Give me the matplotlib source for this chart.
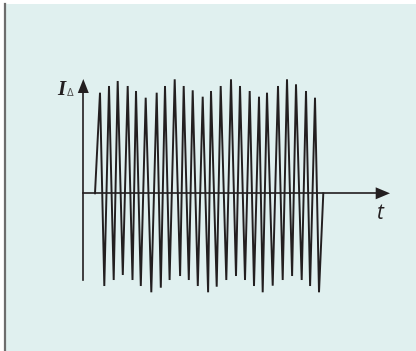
import matplotlib.pyplot as plt
from matplotlib.patches import Rectangle

# peak times and values of the differential current (arbitrary units, origin at axis crossing)
t_start, t_end = 11.7, 240.0
t_top = [16.7, 25.7, 34.4, 44.4, 52.7, 62.4, 73.4, 81.7, 91.4, 100.4, 109.4, 119.4,
         127.7, 137.4, 147.7, 156.7, 166.4, 175.7, 183.7, 194.7, 203.7, 212.7, 222.7, 231.7]
i_top = [100.6, 107.3, 112.3, 107.3, 102.3, 95.6, 100.6, 107.3, 114.0, 107.3, 103.0, 96.6,
         102.3, 107.3, 114.0, 107.3, 102.3, 96.6, 100.6, 107.3, 114.0, 109.0, 102.3, 95.6]
t_bot = [21.0, 30.4, 39.5, 49.2, 57.5, 68.0, 77.5, 86.3, 96.8, 105.5, 114.5, 124.8,
         133.4, 143.0, 152.7, 161.7, 170.7, 179.4, 189.4, 199.4, 208.8, 218.4, 226.8, 235.7]
i_bot = [-92.7, -86.7, -81.7, -86.7, -92.7, -99.0, -94.4, -86.7, -82.7, -86.7, -92.7, -99.0,
         -93.4, -86.7, -82.7, -86.7, -92.7, -99.0, -92.4, -86.7, -82.7, -86.7, -92.7, -99.0]

t = [t_start]
i = [0.0]
for a, b, c, d in zip(t_top, i_top, t_bot, i_bot):
    t += [a, c]
    i += [b, d]
t.append(t_end)
i.append(0.0)

bg = '#e0f0ef'
ink = '#231f20'

fig = plt.figure(figsize=(4.16, 3.51), dpi=100, facecolor='white')
ax = fig.add_axes([0, 0, 1, 1])
ax.set_xlim(-83.3, 416 - 83.3)
ax.set_ylim(-(351 - 193.3), 193.3)
ax.axis('off')

# panel background and left rule
ax.add_patch(Rectangle((-79.3, -160), 420, 349.3, facecolor=bg, edgecolor='none', zorder=0))
ax.plot([-78.8, -78.8], [-160, 189.3], color='#6d6d6d', lw=1.6, zorder=1)

# axes with arrow heads
ax.plot([0, 0], [-86.7, 102], color=ink, lw=1.2, zorder=2)
ax.plot([0, 295], [0, 0], color=ink, lw=1.2, zorder=2)
ax.fill([-5.5, 5.5, 0], [100.3, 100.3, 114.3], color=ink, lw=0, zorder=3)
ax.fill([292.4, 292.4, 306.7], [6, -6, 0], color=ink, lw=0, zorder=3)

# signal
ax.plot(t, i, color=ink, lw=1.4, solid_joinstyle='miter', zorder=2)

# labels
ax.text(-25.6, 98.4, 'I', fontsize=15, fontweight='bold', fontstyle='italic',
        family='Liberation Serif', color=ink, ha='left', va='baseline')
ax.text(-16.8, 97.3, 'Δ', fontsize=7, family='DejaVu Sans', color='#555555',
        ha='left', va='baseline')
ax.text(295.7, -25.7, 't', fontsize=15, fontstyle='italic',
        family='Open Sans', color=ink, ha='center', va='baseline')

fig.savefig('out.png', dpi=100, facecolor='white')
